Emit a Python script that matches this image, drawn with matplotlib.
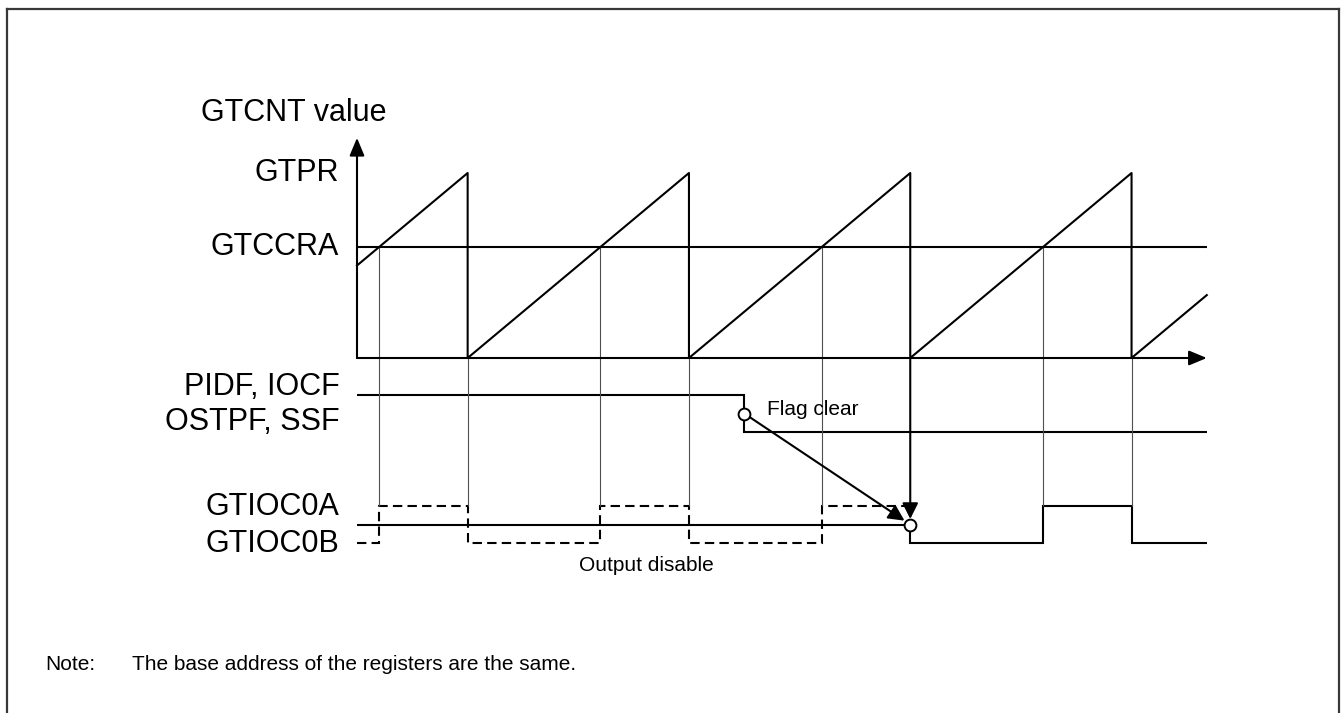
import numpy as np
import matplotlib
matplotlib.use("Agg")
import matplotlib.pyplot as plt
from matplotlib.lines import Line2D

plt.rcParams["font.family"] = ["Liberation Sans", "DejaVu Sans"]

# time in counter periods, counter value as fraction of GTPR
saw_t = [0.0, 0.5, 0.5, 1.5, 1.5, 2.5, 2.5, 3.5, 3.5, 3.84]
saw_v = [0.5, 1.0, 0.0, 1.0, 0.0, 1.0, 0.0, 1.0, 0.0, 0.34]
gtccra = 0.6
t_end = 3.84
compare_t = [0.1, 1.1, 2.1, 3.1]
overflow_t = [0.5, 1.5, 3.5]
release_t = 2.5

flag_edges = [0.0, 1.75, t_end]
flag_state = [1, 0]
flag_clear_t = 1.75

# expected output (dashed) and actual output (solid), 0=low 1=high 0.5=disabled
exp_edges = [0.0, 0.1, 0.5, 1.1, 1.5, 2.1, 2.5]
exp_state = [0, 1, 0, 1, 0, 1]
out_edges = [0.0, 2.5, 3.1, 3.5, t_end]
out_state = [0.5, 0, 1, 0]

# lane placement (counter units)
FLAG_LO, FLAG_HI = -0.4, -0.2
OUT_LO, OUT_HI = -1.0, -0.8

# pixel mapping of the drawing
X0, PX_T = 357, 221.3
Y0, PX_V = 358, 185
W, H = 1343, 713

fig = plt.figure(figsize=(W / 100, H / 100), dpi=100)
ax = fig.add_axes([0, 0, 1, 1])
ax.set_xlim(-X0 / PX_T, (W - X0) / PX_T)
ax.set_ylim((Y0 - H) / PX_V, Y0 / PX_V)
ax.axis("off")

lw = 1.5
thin = dict(color="#505050", lw=0.8)

# frame (bottom edge runs off the picture)
frame = dict(color="#383838", lw=1.6)
fig.add_artist(Line2D([7 / W, 7 / W], [0, 1 - 9 / H], **frame))
fig.add_artist(Line2D([7 / W, 1339 / W], [1 - 9 / H, 1 - 9 / H], **frame))
fig.add_artist(Line2D([1339 / W, 1339 / W], [0, 1 - 9 / H], **frame))

# guide lines
ax.vlines(compare_t, OUT_HI, gtccra, **thin)
ax.vlines(overflow_t, OUT_HI, 0, **thin)

# axes arrows
arr = dict(arrowstyle="-|>,head_length=0.6,head_width=0.25", color="k", lw=lw,
           mutation_scale=18, shrinkA=0, shrinkB=0)
ax.annotate("", xy=(0, 1.19), xytext=(0, 0), arrowprops=arr)
ax.annotate("", xy=(t_end, 0), xytext=(0, 0), arrowprops=arr)

# counter and compare level
ax.plot(saw_t, saw_v, color="k", lw=lw)
ax.hlines(gtccra, 0, t_end, color="k", lw=lw)

# flags
flag_y = [FLAG_LO + s * (FLAG_HI - FLAG_LO) for s in flag_state]
ax.stairs(flag_y, flag_edges, baseline=None, color="k", lw=lw)

# outputs
exp_y = [OUT_LO + s * (OUT_HI - OUT_LO) for s in exp_state]
out_y = [OUT_LO + s * (OUT_HI - OUT_LO) for s in out_state]
ax.stairs(exp_y, exp_edges, baseline=None, color="k", lw=lw, ls=(0, (4.5, 2.5)))
ax.stairs(out_y, out_edges, baseline=None, color="k", lw=lw)

flag_mid = (FLAG_LO + FLAG_HI) / 2
out_mid = (OUT_LO + OUT_HI) / 2
small = dict(arrowstyle="-|>,head_length=0.6,head_width=0.3", color="k", lw=lw,
             mutation_scale=16)
ax.annotate("", xy=(release_t, out_mid), xytext=(release_t, 0),
            arrowprops=dict(small, shrinkA=0, shrinkB=4))
ax.annotate("", xy=(release_t, out_mid), xytext=(flag_clear_t, flag_mid),
            arrowprops=dict(small, shrinkA=4, shrinkB=5))
ax.plot([flag_clear_t, release_t], [flag_mid, out_mid], "o", ms=8.5,
        mfc="white", mec="k", mew=1.4, zorder=5)

# labels
big = 22
lx = -0.08
ax.text(-0.285, 1.324, "GTCNT value", fontsize=big, ha="center", va="center")
ax.text(lx, 1.0, "GTPR", fontsize=big, ha="right", va="center")
ax.text(lx, gtccra, "GTCCRA", fontsize=big, ha="right", va="center")
ax.text(lx, -0.157, "PIDF, IOCF", fontsize=big, ha="right", va="center")
ax.text(lx, -0.346, "OSTPF, SSF", fontsize=big, ha="right", va="center")
ax.text(lx, -0.805, "GTIOC0A", fontsize=big, ha="right", va="center")
ax.text(lx, -1.005, "GTIOC0B", fontsize=big, ha="right", va="center")

ax.text(1.853, -0.281, "Flag clear", fontsize=15, ha="left", va="center")
ax.text(1.308, -1.124, "Output disable", fontsize=15, ha="center", va="center")

fig.text(45 / W, 1 - 665 / H, "Note:", fontsize=15, ha="left", va="center")
fig.text(132 / W, 1 - 665 / H, "The base address of the registers are the same.",
         fontsize=15, ha="left", va="center")

fig.savefig("out.png", dpi=100)
